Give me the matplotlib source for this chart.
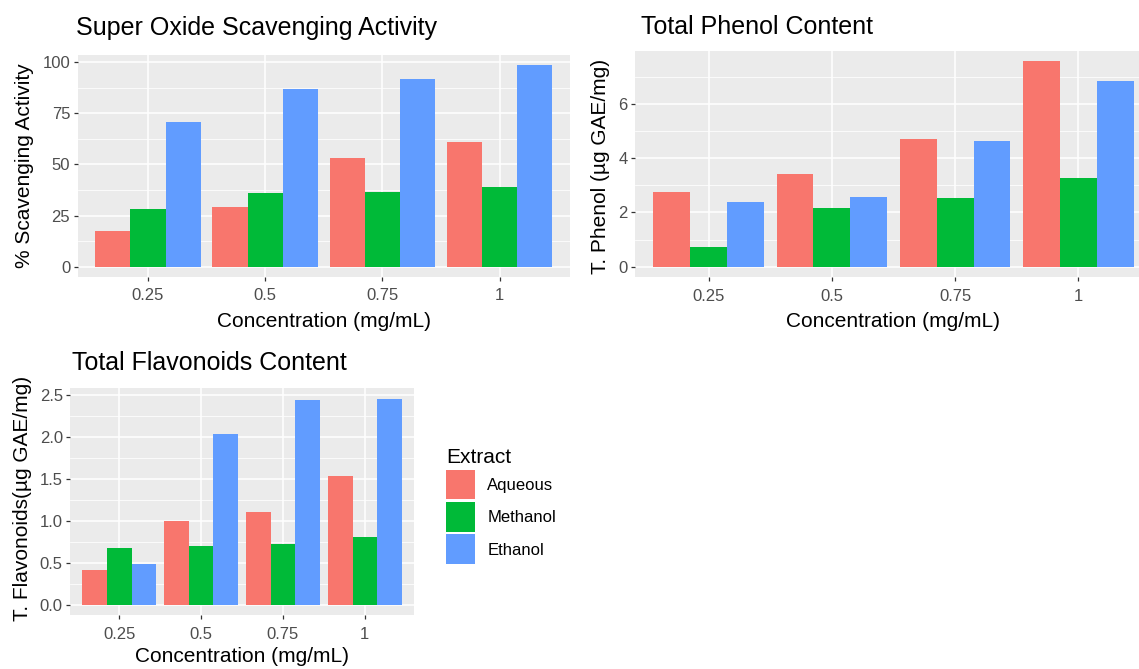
import matplotlib
matplotlib.use("Agg")
import matplotlib.pyplot as plt
import numpy as np

plt.rcParams["font.family"] = ["Liberation Sans", "DejaVu Sans"]

# ---- data -------------------------------------------------------------
concentrations = ["0.25", "0.5", "0.75", "1"]
extracts = ["Aqueous", "Methanol", "Ethanol"]
colors = ["#F8766D", "#00BA38", "#619CFF"]

scavenging_aqueous = [17.6, 29.4, 52.9, 61.1]
scavenging_methanol = [28.4, 35.9, 36.3, 38.9]
scavenging_ethanol = [70.9, 86.9, 91.5, 98.4]

phenol_aqueous = [2.77, 3.40, 4.70, 7.57]
phenol_methanol = [0.73, 2.18, 2.55, 3.28]
phenol_ethanol = [2.40, 2.57, 4.63, 6.83]

flavonoid_aqueous = [0.42, 1.00, 1.11, 1.54]
flavonoid_methanol = [0.68, 0.70, 0.73, 0.81]
flavonoid_ethanol = [0.49, 2.04, 2.44, 2.46]

# ---- figure -----------------------------------------------------------
W, H = 1139, 669
fig = plt.figure(figsize=(W / 100, H / 100), dpi=100)
fig.patch.set_facecolor("white")

PANEL_BG = "#EBEBEB"
TICK_TXT = "#4D4D4D"
TICK_LINE = "#333333"


def fx(px):
    return px / W


def fy(py):
    return 1 - py / H


def panel(box, series, title, ylabel, yticks, yminor, yfmt,
          title_xy, xlabel_xy, ylabel_xy):
    left, top, right, bottom = box
    ax = fig.add_axes([fx(left), fy(bottom), fx(right - left), (bottom - top) / H])
    ax.set_facecolor(PANEL_BG)
    for s in ax.spines.values():
        s.set_visible(False)

    x = np.arange(1, len(concentrations) + 1)
    width = 0.3
    bars = []
    for k, (vals, col) in enumerate(zip(series, colors)):
        b = ax.bar(x + (k - 1) * width, vals, width, color=col, linewidth=0,
                   label=extracts[k], zorder=3)
        bars.append(b)

    ymax = max(max(v) for v in series)
    ax.set_ylim(-0.05 * ymax, 1.05 * ymax)
    ax.set_xlim(0.4, len(concentrations) + 0.6)

    ax.set_xticks(x)
    ax.set_xticklabels(concentrations)
    ax.set_yticks(yticks)
    ax.set_yticklabels([yfmt.format(t) for t in yticks])
    ax.set_yticks(yminor, minor=True)

    ax.grid(True, which="major", color="white", linewidth=1.1, zorder=1)
    ax.grid(True, which="minor", axis="y", color="white", linewidth=0.55, zorder=1)
    ax.set_axisbelow(True)

    ax.tick_params(axis="both", which="major", length=2.8, width=0.9,
                   color=TICK_LINE, labelcolor=TICK_TXT, labelsize=12)
    ax.tick_params(axis="x", pad=5.5)
    ax.tick_params(axis="y", pad=2.5)
    ax.tick_params(axis="both", which="minor", length=0)

    fig.text(fx(title_xy[0]), fy(title_xy[1]), title, fontsize=18,
             ha="left", va="center", color="black")
    fig.text(fx(xlabel_xy[0]), fy(xlabel_xy[1]), "Concentration (mg/mL)",
             fontsize=15, ha="center", va="center", color="black")
    fig.text(fx(ylabel_xy[0]), fy(ylabel_xy[1]), ylabel, fontsize=15,
             ha="center", va="center", rotation=90, color="black")
    return ax, bars


panel((77.6, 55.3, 570, 276.7),
      [scavenging_aqueous, scavenging_methanol, scavenging_ethanol],
      "Super Oxide Scavenging Activity", "% Scavenging Activity",
      [0, 25, 50, 75, 100], [12.5, 37.5, 62.5, 87.5], "{:.0f}",
      (76, 28.5), (323.8, 321.7), (25, 166))

panel((635, 51, 1152, 277),
      [phenol_aqueous, phenol_methanol, phenol_ethanol],
      "Total Phenol Content", "T. Phenol (µg GAE/mg)",
      [0, 2, 4, 6], [1, 3, 5, 7], "{:.0f}",
      (641, 26.7), (893.5, 321.7), (601, 166))

ax3, bars3 = panel((70.2, 388.4, 413.9, 615.3),
                   [flavonoid_aqueous, flavonoid_methanol, flavonoid_ethanol],
                   "Total Flavonoids Content", "T. Flavonoids(µg GAE/mg)",
                   [0, 0.5, 1.0, 1.5, 2.0, 2.5], [0.25, 0.75, 1.25, 1.75, 2.25], "{:.1f}",
                   (72.2, 363.3), (242, 656.7), (23, 498))

# Legend keys: roughly square colour swatches stacked under the title
leg = fig.legend(handles=bars3, labels=extracts, title="Extract",
                 loc="upper left", bbox_to_anchor=(fx(446), fy(448)),
                 frameon=False, fontsize=12, title_fontsize=15,
                 handlelength=1.75, handleheight=2.39, labelspacing=0.15,
                 handletextpad=0.72, borderpad=0, borderaxespad=0,
                 alignment="left")

fig.savefig("out.png", dpi=100, facecolor="white")
